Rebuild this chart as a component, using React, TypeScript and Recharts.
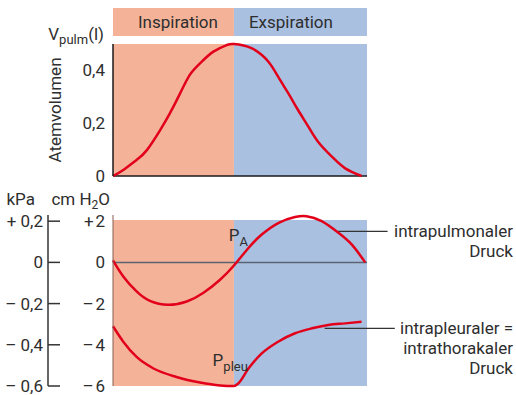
import {
  LineChart,
  Line,
  XAxis,
  YAxis,
  ReferenceArea,
  ReferenceLine,
  ReferenceDot,
  Label,
} from "recharts"

// phases of the breathing cycle (time in s)
const phases = ["Inspiration", "Exspiration"]
const phaseStart = [0, 2]
const phaseEnd = [2, 4.2]

// lung volume (l)
const volTime = [0, 0.17, 0.39, 0.56, 0.78, 0.94, 1.11, 1.27, 1.44, 1.66, 1.88, 2.0, 2.29, 2.57, 2.73, 2.9, 3.06, 3.23, 3.39, 3.62, 3.84, 4.11]
const volume = [0, 0.023, 0.061, 0.098, 0.174, 0.237, 0.313, 0.383, 0.427, 0.471, 0.496, 0.5, 0.484, 0.433, 0.376, 0.313, 0.25, 0.187, 0.13, 0.073, 0.029, 0]
const volTicks = [0, 0.2, 0.4]

// intrapulmonary pressure (cm H2O)
const paTime = [0, 0.17, 0.39, 0.61, 0.91, 1.22, 1.49, 1.77, 2.0, 2.24, 2.46, 2.74, 3.01, 3.2, 3.45, 3.73, 3.95, 4.17]
const pa = [0.1, -0.68, -1.41, -1.87, -2.06, -1.9, -1.49, -0.84, -0.15, 0.7, 1.35, 1.92, 2.2, 2.24, 2.0, 1.43, 0.86, 0]

// intrapleural pressure (cm H2O)
const pleuTime = [0, 0.17, 0.39, 0.67, 1.05, 1.44, 1.77, 2.0, 2.07, 2.24, 2.46, 2.73, 3.01, 3.29, 3.56, 3.84, 4.11]
const pleu = [-3.1, -3.85, -4.59, -5.15, -5.56, -5.83, -5.97, -6.0, -5.88, -5.15, -4.42, -3.85, -3.44, -3.2, -3.04, -2.96, -2.88]

const cmTicks = [-6, -4, -2, 0, 2]
const kpaTicks = [-0.6, -0.4, -0.2, 0, 0.2]

const W = 516
const RED = "#e2001a"
const INK = "#2e2e2e"
const PHASE_FILL = ["#f4b398", "#a9c0e1"]

const volData = volTime.map((t, i) => ({ t, v: volume[i] }))
const paData = paTime.map((t, i) => ({ t, p: pa[i] }))
const pleuData = pleuTime.map((t, i) => ({ t, p: pleu[i] }))

const comma = (v: number) => String(Math.abs(v)).replace(".", ",")
const fmtVol = (v: number) => comma(v)
const fmtCm = (v: number) => (v > 0 ? "+\u200a" + comma(v) : v < 0 ? "\u2013\u200a" + comma(v) : "0")
const fmtKpa = (v: number) => (v > 0 ? "+ " + comma(v) : v < 0 ? "\u2013 " + comma(v) : "0")

function VolumeAxisLabel(props: any) {
  const { x, y, width, height } = props.viewBox
  const cx = x + 15
  const cy = y + height / 2
  return (
    <g fill={INK} fontSize={17}>
      <text x={x + width - 9} y={y - 4} textAnchor="end">
        V<tspan fontSize={13} dy={4}>pulm</tspan>
        <tspan dy={-4}>(l)</tspan>
      </text>
      <text x={cx} y={cy} textAnchor="middle" dominantBaseline="central" transform={`rotate(-90 ${cx} ${cy})`}>
        Atemvolumen
      </text>
    </g>
  )
}

function CmTitle(props: any) {
  const { x, y, width } = props.viewBox
  return (
    <text x={x + width - 3} y={y - 10} textAnchor="end" fill={INK} fontSize={17}>
      cm H<tspan fontSize={12} dy={4}>2</tspan>
      <tspan dy={-4}>O</tspan>
    </text>
  )
}

function KpaTitle(props: any) {
  const { x, y, width } = props.viewBox
  return (
    <text x={x + width - 13} y={y - 10} textAnchor="end" fill={INK} fontSize={17}>
      kPa
    </text>
  )
}

function subLabel(main: string, sub: string) {
  return function SubLabel(props: any) {
    const { x, y } = props.viewBox
    return (
      <text x={x} y={y} textAnchor="end" fill={INK} fontSize={17}>
        {main}
        <tspan fontSize={13} dy={5}>{sub}</tspan>
      </text>
    )
  }
}

function sideNote(lines: string[]) {
  return function SideNote(props: any) {
    const { y } = props.viewBox
    return (
      <g fill={INK} fontSize={17}>
        {lines.map((l, i) => (
          <text key={l + i} x={W - 3} y={y + i * 20} dy="0.35em" textAnchor="end">
            {l}
          </text>
        ))}
      </g>
    )
  }
}

function VolumeChart() {
  return (
    <LineChart width={W} height={190} margin={{ top: 44, right: 149, bottom: 14, left: 40 }}>
      <XAxis type="number" dataKey="t" domain={[0, 4.2]} hide />
      <YAxis
        type="number"
        domain={[0, 0.5]}
        ticks={volTicks}
        interval={0}
        tickFormatter={fmtVol}
        width={73}
        tickSize={0}
        tickMargin={8}
        tickLine={false}
        axisLine={{ stroke: "#1a1a1a", strokeWidth: 1.5 }}
        tick={{ fill: INK, fontSize: 17 }}
      >
        <Label content={VolumeAxisLabel} />
      </YAxis>
      {phases.map((p, i) => (
        <ReferenceArea
          key={"head" + p}
          x1={phaseStart[i]}
          x2={phaseEnd[i]}
          y1={0.53}
          y2={0.636}
          ifOverflow="visible"
          fill={PHASE_FILL[i]}
          fillOpacity={1}
          stroke="none"
          label={{ value: p, position: "insideLeft", offset: i === 0 ? 25 : 15, fill: INK, fontSize: 17 }}
        />
      ))}
      {phases.map((p, i) => (
        <ReferenceArea
          key={"bg" + p}
          x1={phaseStart[i]}
          x2={phaseEnd[i]}
          y1={0}
          y2={0.5}
          fill={PHASE_FILL[i]}
          fillOpacity={1}
          stroke="none"
        />
      ))}
      <ReferenceLine y={0} stroke="#1a1a1a" strokeWidth={1.5} />
      <Line data={volData} dataKey="v" type="natural" stroke={RED} strokeWidth={2.5} dot={false} isAnimationActive={false} />
    </LineChart>
  )
}

function PressureChart() {
  return (
    <LineChart width={W} height={215} margin={{ top: 35, right: 149, bottom: 9, left: 0 }}>
      <XAxis type="number" dataKey="t" domain={[0, 4.2]} hide />
      <YAxis
        yAxisId="cm"
        type="number"
        domain={[-6, 2.3]}
        ticks={cmTicks}
        interval={0}
        tickFormatter={fmtCm}
        width={65}
        tickSize={0}
        tickMargin={8}
        tickLine={false}
        axisLine={{ stroke: "#8a5c52", strokeWidth: 1 }}
        tick={{ fill: INK, fontSize: 17 }}
      >
        <Label content={CmTitle} />
      </YAxis>
      <YAxis
        yAxisId="kpa"
        type="number"
        domain={[-0.6, 0.23]}
        allowDataOverflow
        ticks={kpaTicks}
        interval={0}
        tickFormatter={fmtKpa}
        width={48}
        tickSize={-12}
        tickMargin={17}
        tickLine={{ stroke: "#333", strokeWidth: 1.5 }}
        axisLine={{ stroke: "#333", strokeWidth: 1.5 }}
        tick={{ fill: INK, fontSize: 17 }}
      >
        <Label content={KpaTitle} />
      </YAxis>
      {phases.map((p, i) => (
        <ReferenceArea
          key={"bg" + p}
          yAxisId="cm"
          x1={phaseStart[i]}
          x2={phaseEnd[i]}
          y1={-6}
          y2={2.06}
          fill={PHASE_FILL[i]}
          fillOpacity={1}
          stroke="none"
        />
      ))}
      <ReferenceLine yAxisId="cm" y={0} stroke="#5b6272" strokeWidth={1.5} />
      <ReferenceLine
        yAxisId="cm"
        segment={[{ x: 3.72, y: 1.51 }, { x: 4.54, y: 1.51 }]}
        ifOverflow="visible"
        stroke="#333"
        strokeWidth={1.2}
        label={{ content: sideNote(["intrapulmonaler", "Druck"]) }}
      />
      <ReferenceLine
        yAxisId="cm"
        segment={[{ x: 3.5, y: -3.2 }, { x: 4.66, y: -3.2 }]}
        ifOverflow="visible"
        stroke="#333"
        strokeWidth={1.2}
        label={{ content: sideNote(["intrapleuraler =", "intrathorakaler", "Druck"]) }}
      />
      <ReferenceDot yAxisId="cm" x={2.23} y={1.04} r={0} fill="none" stroke="none" label={{ content: subLabel("P", "A") }} />
      <ReferenceDot yAxisId="cm" x={2.23} y={-5.03} r={0} fill="none" stroke="none" label={{ content: subLabel("P", "pleu") }} />
      <Line yAxisId="cm" data={paData} dataKey="p" type="natural" stroke={RED} strokeWidth={2.5} dot={false} isAnimationActive={false} />
      <Line yAxisId="cm" data={pleuData} dataKey="p" type="monotone" stroke={RED} strokeWidth={2.5} dot={false} isAnimationActive={false} />
    </LineChart>
  )
}

export default function App() {
  return (
    <div style={{ position: "absolute", left: 0, top: 0, width: W, height: 395, fontFamily: "Roboto, sans-serif", background: "#fff" }}>
      <div style={{ position: "absolute", left: 0, top: 0 }}>
        <VolumeChart />
      </div>
      <div style={{ position: "absolute", left: 0, top: 180 }}>
        <PressureChart />
      </div>
    </div>
  )
}
